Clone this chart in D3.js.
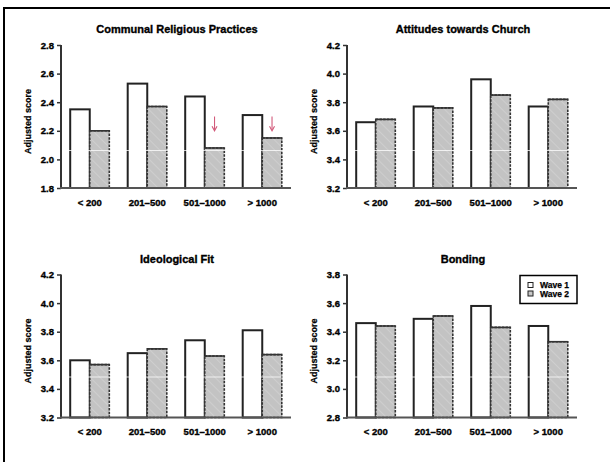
<!DOCTYPE html>
<html>
<head>
<meta charset="utf-8">
<script src="https://cdn.jsdelivr.net/npm/d3@7"></script>
<style>
  html, body { margin: 0; padding: 0; background: #fff; }
  svg { display: block; font-family: "Liberation Sans", Arial, sans-serif; }
</style>
</head>
<body>
<svg id="chart" width="610" height="462"></svg>
<script>
// ---------------- data ----------------
const categories = ["< 200", "201–500", "501–1000", "> 1000"];
const seriesNames = ["Wave 1", "Wave 2"];
const panelTitles = ["Communal Religious Practices", "Attitudes towards Church", "Ideological Fit", "Bonding"];
const yAxisTitle = "Adjusted score";

const communalWave1 = [2.35, 2.53, 2.44, 2.31];
const communalWave2 = [2.20, 2.37, 2.08, 2.15];
const communalTicks = [1.8, 2.0, 2.2, 2.4, 2.6, 2.8];

const attitudesWave1 = [3.66, 3.77, 3.96, 3.77];
const attitudesWave2 = [3.68, 3.76, 3.85, 3.82];
const attitudesTicks = [3.2, 3.4, 3.6, 3.8, 4.0, 4.2];

const ideologicalWave1 = [3.60, 3.65, 3.74, 3.81];
const ideologicalWave2 = [3.57, 3.68, 3.63, 3.64];
const ideologicalTicks = [3.2, 3.4, 3.6, 3.8, 4.0, 4.2];

const bondingWave1 = [3.46, 3.49, 3.58, 3.44];
const bondingWave2 = [3.44, 3.51, 3.43, 3.33];
const bondingTicks = [2.8, 3.0, 3.2, 3.4, 3.6, 3.8];

// significant-decline arrows (panel 1, Wave 2 bars), value range of arrow
const arrowCategories = ["501–1000", "> 1000"];
const arrowFrom = 2.30, arrowTo = 2.20;

// ---------------- layout ----------------
const svg = d3.select("#chart");

// hatch pattern for Wave 2
const defs = svg.append("defs");
const pat = defs.append("pattern")
  .attr("id", "hatch").attr("patternUnits", "userSpaceOnUse")
  .attr("width", 7).attr("height", 7)
  .attr("patternTransform", "rotate(-45)");
pat.append("rect").attr("width", 7).attr("height", 7).attr("fill", "#c3c3c3");
pat.append("line").attr("x1", 0).attr("y1", 0).attr("x2", 0).attr("y2", 7)
  .attr("stroke", "#d6d6d6").attr("stroke-width", 1.2);

// outer frame (top and left edges only visible)
svg.append("line").attr("x1", 3).attr("x2", 610).attr("y1", 8).attr("y2", 8)
  .attr("stroke", "#000").attr("stroke-width", 2);
svg.append("line").attr("x1", 4).attr("x2", 4).attr("y1", 7).attr("y2", 462)
  .attr("stroke", "#000").attr("stroke-width", 2);

const panels = [
  { title: panelTitles[0], w1: communalWave1, w2: communalWave2, ticks: communalTicks, dx: 0, dy: 0, seam: 150.5, arrows: true },
  { title: panelTitles[1], w1: attitudesWave1, w2: attitudesWave2, ticks: attitudesTicks, dx: 286, dy: 0, seam: 150.5 },
  { title: panelTitles[2], w1: ideologicalWave1, w2: ideologicalWave2, ticks: ideologicalTicks, dx: 0, dy: 229.5, seam: 147.5 },
  { title: panelTitles[3], w1: bondingWave1, w2: bondingWave2, ticks: bondingTicks, dx: 286, dy: 229.5, seam: 147.5, legend: true }
];

const X0 = 61, X1 = 291, YT = 45, YB = 188;
const heavy = sel => sel.attr("font-weight", "bold").attr("fill", "#000")
  .attr("stroke", "#000").attr("stroke-width", 0.35)
  .attr("font-family", "Liberation Sans, Arial, sans-serif");

panels.forEach(p => {
  const g = svg.append("g").attr("transform", `translate(${p.dx},${p.dy})`);

  const x = d3.scaleBand().domain(categories).range([X0, X1])
    .paddingInner(0.32).paddingOuter(0.16);
  const xs = d3.scaleBand().domain(seriesNames).range([0, x.bandwidth()]);
  const y = d3.scaleLinear().domain([p.ticks[0], p.ticks[p.ticks.length - 1]]).range([YB, YT]);

  // title
  g.append("text").attr("x", (X0 + X1) / 2 + 1).attr("y", 33)
    .attr("text-anchor", "middle").attr("font-size", 11)
    .call(heavy).text(p.title);

  // y axis title
  g.append("text")
    .attr("transform", `translate(${X0 - 30},${(YT + YB) / 2 + 5}) rotate(-90)`)
    .attr("text-anchor", "middle").attr("font-size", 9)
    .call(heavy).attr("stroke-width", 0.25).text(yAxisTitle);

  // bars
  const groups = g.selectAll("g.grp").data(categories).enter().append("g")
    .attr("class", "grp").attr("transform", d => `translate(${x(d)},0)`);

  groups.append("rect")
    .attr("x", d => xs("Wave 1")).attr("width", xs.bandwidth())
    .attr("y", (d, i) => y(p.w1[i])).attr("height", (d, i) => YB - y(p.w1[i]))
    .attr("fill", "#fff").attr("stroke", "#222").attr("stroke-width", 2);

  groups.append("rect")
    .attr("x", d => xs("Wave 2")).attr("width", xs.bandwidth())
    .attr("y", (d, i) => y(p.w2[i])).attr("height", (d, i) => YB - y(p.w2[i]))
    .attr("fill", "url(#hatch)").attr("stroke", "#333").attr("stroke-width", 1.6)
    .attr("stroke-dasharray", "2.5,1.2");
  groups.append("line")
    .attr("x1", d => xs("Wave 2")).attr("x2", d => xs("Wave 2") + xs.bandwidth())
    .attr("y1", (d, i) => y(p.w2[i])).attr("y2", (d, i) => y(p.w2[i]))
    .attr("stroke", "#333").attr("stroke-width", 1.6);

  // faint seam line across plot area
  g.append("line").attr("x1", X0 + 1).attr("x2", X1).attr("y1", p.seam).attr("y2", p.seam)
    .attr("stroke", "#fff").attr("stroke-opacity", 0.75).attr("stroke-width", 1);

  // y axis
  const yAxis = d3.axisLeft(y).tickValues(p.ticks).tickFormat(d3.format(".1f"))
    .tickSize(4).tickPadding(3);
  const ya = g.append("g").attr("transform", `translate(${X0},0)`).call(yAxis);
  ya.select(".domain").remove();
  ya.selectAll(".tick line").attr("stroke", "#333").attr("stroke-width", 1.5);
  ya.selectAll(".tick text").attr("font-size", 9.5).call(heavy);
  g.append("line").attr("x1", X0).attr("x2", X0).attr("y1", YT).attr("y2", YB + 1)
    .attr("stroke", "#333").attr("stroke-width", 2);

  // x axis
  const xAxis = d3.axisBottom(x).tickSize(0).tickPadding(11);
  const xa = g.append("g").attr("transform", `translate(0,${YB})`).call(xAxis);
  xa.select(".domain").remove();
  xa.selectAll(".tick text").attr("font-size", 9.5).call(heavy);
  g.append("line").attr("x1", X0 - 1).attr("x2", X1).attr("y1", YB).attr("y2", YB)
    .attr("stroke", "#555").attr("stroke-width", 2);

  // arrows
  if (p.arrows) {
    arrowCategories.forEach(c => {
      const cx = x(c) + xs("Wave 2") + xs.bandwidth() / 2;
      g.append("line").attr("x1", cx).attr("x2", cx)
        .attr("y1", y(arrowFrom)).attr("y2", y(arrowTo) - 1)
        .attr("stroke", "#d25a7a").attr("stroke-width", 1.1);
      g.append("path")
        .attr("d", d3.line()([[cx - 2.5, y(arrowTo) - 4.5], [cx, y(arrowTo)], [cx + 2.5, y(arrowTo) - 4.5]]))
        .attr("fill", "none").attr("stroke", "#d25a7a").attr("stroke-width", 1.1);
    });
  }

  // legend
  if (p.legend) {
    const lg = g.append("g").attr("transform", `translate(${X1 - 57},${YT + 1})`);
    lg.append("rect").attr("width", 57).attr("height", 28)
      .attr("fill", "#fff").attr("stroke", "#000").attr("stroke-width", 1.5);
    const items = lg.selectAll("g.item").data(seriesNames).enter().append("g")
      .attr("class", "item").attr("transform", (d, i) => `translate(8,${7 + i * 8.5})`);
    items.append("rect").attr("width", 5).attr("height", 5)
      .attr("fill", (d, i) => i === 0 ? "#fff" : "url(#hatch)")
      .attr("stroke", "#222").attr("stroke-width", 1);
    items.append("text").attr("x", 12).attr("y", 5.5).attr("font-size", 8.5)
      .call(heavy).attr("stroke-width", 0.25).text(d => d);
  }
});
</script>
</body>
</html>
